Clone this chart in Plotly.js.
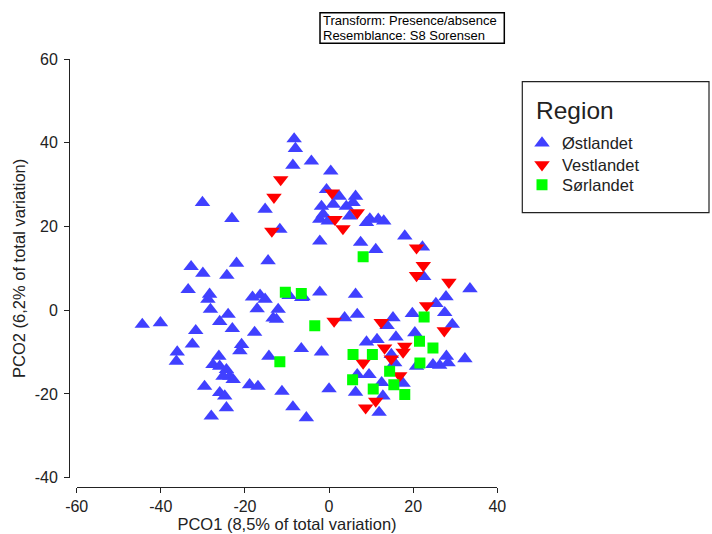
<!DOCTYPE html>
<html>
<head>
<meta charset="utf-8">
<script src="https://cdn.plot.ly/plotly-3.0.1.min.js"></script>
<style>
  html, body { margin: 0; padding: 0; background: #ffffff; }
  #chart { width: 712px; height: 534px; }
</style>
</head>
<body>
<div id="chart"></div>
<script>
// Østlandet (blue triangles up)
const ostX = [-8.3,-8.0,-8.6,-4.2,0.4,-15.2,-11.7,-30.1,-23.1,-0.6,2.4,6.3,-1.8,1.0,4.1,5.7,-1.4,4.9,-2.2,-0.2,8.9,9.7,11.7,13.0,-2.2,7.5,11.1,18.0,22.2,22.5,33.5,27.8,25.4,27.5,29.3,19.8,15.2,13.8,15.9,20.4,11.4,8.9,14.8,6.3,6.7,3.7,-2.2,-6.2,-1.8,-6.6,0.0,-5.4,9.5,6.7,15.6,24.7,26.3,28.3,27.9,32.3,20.8,17.6,6.3,12.5,12.8,11.9,
  -32.8,-30.0,-22.0,-14.5,-24.3,-33.5,-28.4,-28.8,-28.2,-24.0,-26.0,-23.0,-18.2,-16.4,-15.2,-17.1,-12.1,-13.3,-12.5,-9.5,-6.5,-44.4,-40.1,-31.7,-32.5,-36.1,-36.3,-20.8,-21.2,-17.7,-14.3,-26.2,-27.6,-26.0,-24.4,-23.6,-22.8,-25.2,-29.6,-18.9,-16.9,-26.0,-24.8,-24.4,-28.0,-11.2,-8.6];
const ostY = [40.9,38.6,34.6,35.6,33.2,24.1,19.3,25.7,21.9,28.8,27.2,27.2,24.8,25.3,24.8,25.7,22.9,22.5,21.7,21.3,20.9,21.8,21.7,21.3,16.5,16.2,14.5,17.7,15.1,8.0,5.1,3.2,1.6,-0.6,-3.4,-0.8,-1.8,-3.7,-6.4,-5.4,-7.0,-7.6,-10.6,3.8,-1.0,-1.8,4.3,3.2,-10.0,-9.2,-18.8,-25.7,-15.4,-15.4,-12.6,-13.0,-13.2,-12.6,-11.0,-11.6,-13.4,-17.5,-19.6,-17.3,-20.5,-24.4,
  10.4,8.8,11.2,11.8,8.3,4.9,3.8,2.6,0.2,-1.0,-2.7,-4.4,3.1,3.6,2.6,0.3,0.2,-1.9,-2.2,3.5,3.0,-3.4,-3.0,-4.9,-8.1,-10.0,-12.2,-8.2,-9.7,-5.3,-11.0,-11.0,-13.0,-13.4,-14.2,-15.8,-16.6,-15.8,-18.2,-17.8,-18.2,-19.7,-20.5,-23.3,-25.3,-19.4,-23.1];

// Vestlandet (red triangles down)
const vestX = [-11.5,-13.1,-13.6,0.7,6.7,1.4,3.3,20.8,22.4,20.8,28.5,23.2,27.4,12.4,13.2,18.0,17.6,14.8,8.1,16.8,11.1,8.7,1.2];
const vestY = [31.2,27.0,18.9,28.0,23.3,21.7,19.5,14.9,10.7,8.3,6.7,1.1,-4.9,-2.9,-9.0,-8.6,-10.0,-11.6,-12.6,-15.6,-21.7,-23.3,-2.6];

// Sørlandet (green squares)
const sorX = [8.1,-10.4,-6.6,-3.4,-11.7,22.6,21.5,24.7,5.7,10.3,21.6,14.4,5.6,15.4,10.5,18.0];
const sorY = [12.8,4.3,4.0,-3.7,-12.3,-1.6,-7.4,-9.0,-10.6,-10.6,-12.6,-14.6,-16.6,-17.8,-18.8,-20.1];

const regionNames = ["Østlandet", "Vestlandet", "Sørlandet"];
const legendTitle = "Region";
const xTitle = "PCO1 (8,5% of total variation)";
const yTitle = "PCO2 (6,2% of total variation)";
const noteLines = ["Transform: Presence/absence", "Resemblance: S8 Sorensen"];
const xTickVals = [-60, -40, -20, 0, 20, 40];
const xTickText = ["-60", "-40", "-20", "0", "20", "40"];
const yTickVals = [-40, -20, 0, 20, 40, 60];
const yTickText = ["-40", "-20", "0", "20", "40", "60"];

const FONT = "Liberation Sans, Arial, sans-serif";

// paper helpers (paper spans x 60..512 px, y 40..494 px)
const px = v => (v - 60) / 452;
const py = v => (494 - v) / 454;

const traces = [
  {x: ostX, y: ostY, name: regionNames[0], type: "scatter", mode: "markers", legend: "legend",
   marker: {symbol: "triangle-up", size: 13.5, color: "rgb(64,64,255)", line: {width: 0}}},
  {x: vestX, y: vestY, name: regionNames[1], type: "scatter", mode: "markers", legend: "legend2",
   marker: {symbol: "triangle-down", size: 13.5, color: "rgb(255,0,0)", line: {width: 0}}},
  {x: sorX, y: sorY, name: regionNames[2], type: "scatter", mode: "markers", legend: "legend3",
   marker: {symbol: "square", size: 11, color: "rgb(0,255,0)", line: {width: 0}}}
];

const axisCommon = {
  showgrid: false, zeroline: false, showline: true, linecolor: "#222", linewidth: 1,
  ticks: "outside", ticklen: 5, tickwidth: 1, tickcolor: "#222",
  tickfont: {family: FONT, size: 16, color: "#222"}, fixedrange: true
};

const legendCommon = {
  x: px(522), xanchor: "left", yanchor: "middle",
  bgcolor: "rgba(0,0,0,0)", borderwidth: 0,
  font: {family: FONT, size: 16.5, color: "#222"}
};

const layout = {
  width: 712, height: 534,
  margin: {l: 60, r: 200, t: 40, b: 40},
  paper_bgcolor: "#ffffff", plot_bgcolor: "#ffffff",
  font: {family: FONT, color: "#222"},
  xaxis: Object.assign({}, axisCommon, {
    range: [-60, 40], domain: [px(76.7), px(497.3)], anchor: "free", position: py(486.7),
    tickvals: xTickVals, ticktext: xTickText,
    title: {text: xTitle, font: {family: FONT, size: 16.5, color: "#222"}, standoff: 4}
  }),
  yaxis: Object.assign({}, axisCommon, {
    range: [-40, 60], domain: [py(477.7), py(59)], anchor: "free", position: px(69),
    tickvals: yTickVals, ticktext: yTickText, ticklabelstandoff: 3,
    title: {text: yTitle, font: {family: FONT, size: 16.5, color: "#222"}, standoff: 3}
  }),
  showlegend: true,
  legend: Object.assign({}, legendCommon, {y: py(143.3)}),
  legend2: Object.assign({}, legendCommon, {y: py(165)}),
  legend3: Object.assign({}, legendCommon, {y: py(185)}),
  shapes: [
    {type: "rect", xref: "paper", yref: "paper",
     x0: px(522.3), x1: px(709), y0: py(212.7), y1: py(81.7),
     line: {color: "#222", width: 1.2}, fillcolor: "rgba(0,0,0,0)"},
    {type: "rect", xref: "paper", yref: "paper",
     x0: px(320), x1: px(504.3), y0: py(43.3), y1: py(12.7),
     line: {color: "#000", width: 1.5}, fillcolor: "rgba(0,0,0,0)"}
  ],
  annotations: [
    {xref: "paper", yref: "paper", x: px(534.5), y: py(110.5), xanchor: "left", yanchor: "middle",
     showarrow: false, text: legendTitle, borderpad: 0,
     font: {family: FONT, size: 24.5, color: "#222"}},
    {xref: "paper", yref: "paper", x: px(322), y: py(20.8), xanchor: "left", yanchor: "middle",
     showarrow: false, text: noteLines[0], borderpad: 0,
     font: {family: FONT, size: 13, color: "#000"}},
    {xref: "paper", yref: "paper", x: px(322), y: py(35), xanchor: "left", yanchor: "middle",
     showarrow: false, text: noteLines[1], borderpad: 0,
     font: {family: FONT, size: 13, color: "#000"}}
  ]
};

Plotly.newPlot("chart", traces, layout, {displayModeBar: false, staticPlot: true});
</script>
</body>
</html>
